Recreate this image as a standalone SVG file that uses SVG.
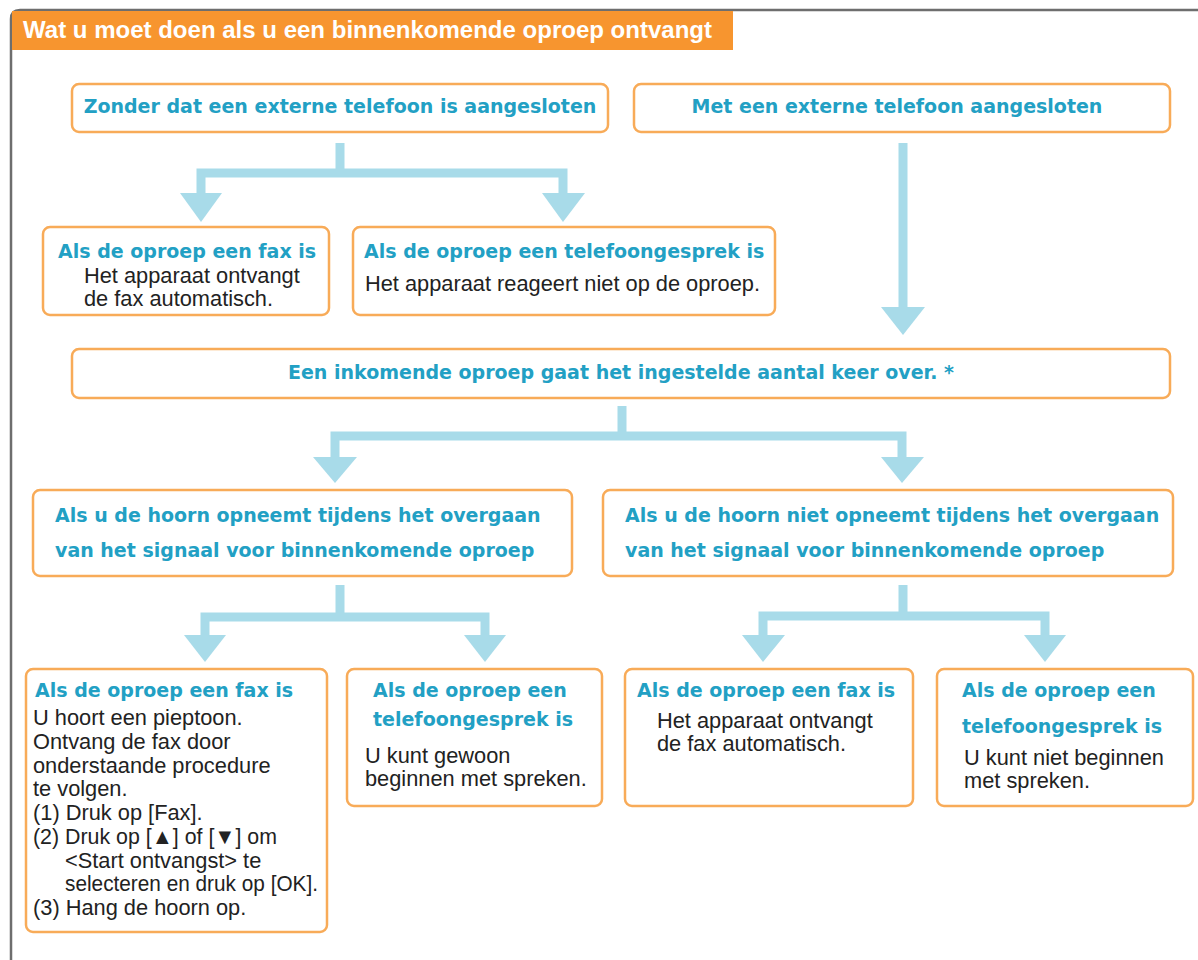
<svg xmlns="http://www.w3.org/2000/svg" width="1198" height="960" viewBox="0 0 1198 960">
<style>
.box{fill:#fff;stroke:#f8ab58;stroke-width:2.5}
.t{font-family:"DejaVu Sans",Verdana,sans-serif;font-weight:bold;font-size:19px;fill:#22a0c4}
.b{font-family:"Liberation Sans",Arial,sans-serif;font-size:21.8px;fill:#222}
.arr{fill:none;stroke:#a8dbe9;stroke-width:9;stroke-linecap:butt;stroke-linejoin:miter}
.head{fill:#a8dbe9}
</style>
<rect width="1198" height="960" fill="#fff"/>
<g id="frame">
<path d="M11,960 V19 Q11,10 20,10 H1198" fill="none" stroke="#6e6e6e" stroke-width="2.5"/>
<rect x="12" y="11" width="721" height="39" fill="#f7952f"/>
<text x="23" y="38" font-family="Liberation Sans,Arial,sans-serif" font-weight="bold" font-size="23px" fill="#fff" textLength="689" lengthAdjust="spacingAndGlyphs">Wat u moet doen als u een binnenkomende oproep ontvangt</text>
</g>
<g id="connectors">
<path class="arr" d="M340,143 V173 M201,194 V173 H563 V194"/>
<polygon class="head" points="180,193 222,193 201,222"/>
<polygon class="head" points="542,193 585,193 563,222"/>
<path class="arr" d="M903,143 V308"/>
<polygon class="head" points="881,307 925,307 903,335"/>
<path class="arr" d="M622,406 V436 M335,458 V436 H902 V458"/>
<polygon class="head" points="313,457 357,457 335,483"/>
<polygon class="head" points="881,457 924,457 902,483"/>
<path class="arr" d="M340,585 V617 M205,636 V617 H485 V636"/>
<polygon class="head" points="184,635 226,635 205,662"/>
<polygon class="head" points="464,635 506,635 485,662"/>
<path class="arr" d="M903,585 V616 M763,636 V616 H1045 V636"/>
<polygon class="head" points="742,635 785,635 763,662"/>
<polygon class="head" points="1024,635 1066,635 1045,662"/>
</g>
<g id="n1"><rect class="box" x="72" y="84" width="536" height="48" rx="7"/><text class="t" x="340" y="113" text-anchor="middle">Zonder dat een externe telefoon is aangesloten</text></g>
<g id="n2"><rect class="box" x="634" y="84" width="536" height="48" rx="7"/><text class="t" x="897" y="113" text-anchor="middle">Met een externe telefoon aangesloten</text></g>
<g id="n3"><rect class="box" x="43" y="227" width="286" height="88" rx="7"/><text class="t" x="58" y="258">Als de oproep een fax is</text><text class="b" x="84" y="283">Het apparaat ontvangt</text><text class="b" x="84" y="306">de fax automatisch.</text></g>
<g id="n4"><rect class="box" x="353" y="227" width="422" height="88" rx="7"/><text class="t" x="364" y="258">Als de oproep een telefoongesprek is</text><text class="b" x="365" y="291">Het apparaat reageert niet op de oproep.</text></g>
<g id="n5"><rect class="box" x="72" y="349" width="1098" height="49" rx="7"/><text class="t" x="621" y="379" text-anchor="middle">Een inkomende oproep gaat het ingestelde aantal keer over. *</text></g>
<g id="n6"><rect class="box" x="33" y="490" width="539" height="86" rx="7"/><text class="t" x="55" y="522">Als u de hoorn opneemt tijdens het overgaan</text><text class="t" x="55" y="557">van het signaal voor binnenkomende oproep</text></g>
<g id="n7"><rect class="box" x="603" y="490" width="570" height="86" rx="7"/><text class="t" x="625" y="522">Als u de hoorn niet opneemt tijdens het overgaan</text><text class="t" x="625" y="557">van het signaal voor binnenkomende oproep</text></g>
<g id="n8"><rect class="box" x="26" y="669" width="301" height="263" rx="7"/><text class="t" x="35" y="697">Als de oproep een fax is</text>
<text class="b" x="33" y="725">U hoort een pieptoon.</text>
<text class="b" x="33" y="748.7">Ontvang de fax door</text>
<text class="b" x="33" y="772.5">onderstaande procedure</text>
<text class="b" x="33" y="796.2">te volgen.</text>
<text class="b" x="33" y="820">(1) Druk op [Fax].</text>
<text class="b" x="33" y="843.7" textLength="244" lengthAdjust="spacingAndGlyphs">(2) Druk op [▲] of [▼] om</text>
<text class="b" x="65" y="867.5">&lt;Start ontvangst&gt; te</text>
<text class="b" x="65" y="891.2" textLength="253" lengthAdjust="spacingAndGlyphs">selecteren en druk op [OK].</text>
<text class="b" x="33" y="915">(3) Hang de hoorn op.</text></g>
<g id="n9"><rect class="box" x="347" y="669" width="255" height="137" rx="7"/><text class="t" x="373" y="697">Als de oproep een</text><text class="t" x="373" y="726">telefoongesprek is</text><text class="b" x="365" y="763">U kunt gewoon</text><text class="b" x="365" y="786">beginnen met spreken.</text></g>
<g id="n10"><rect class="box" x="625" y="669" width="288" height="137" rx="7"/><text class="t" x="637" y="697">Als de oproep een fax is</text><text class="b" x="657" y="728">Het apparaat ontvangt</text><text class="b" x="657" y="751">de fax automatisch.</text></g>
<g id="n11"><rect class="box" x="937" y="669" width="256" height="137" rx="7"/><text class="t" x="962" y="697">Als de oproep een</text><text class="t" x="962" y="733">telefoongesprek is</text><text class="b" x="964" y="765">U kunt niet beginnen</text><text class="b" x="964" y="788">met spreken.</text></g>
</svg>
